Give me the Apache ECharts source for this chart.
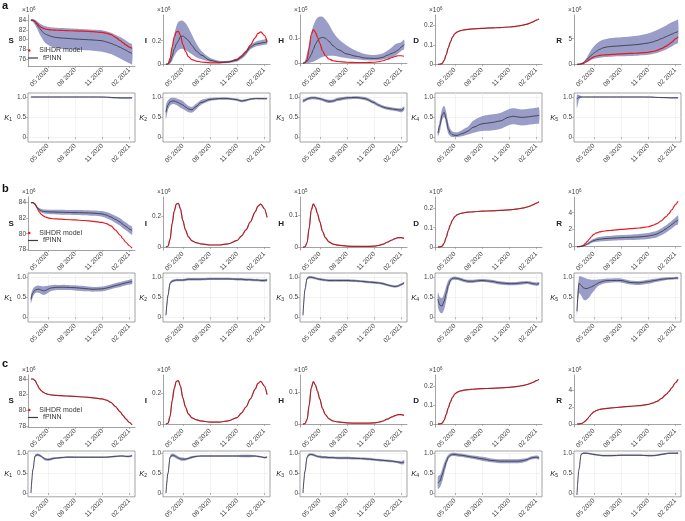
<!DOCTYPE html>
<html lang="en">

<head>
    <meta charset="UTF-8">
    <title>SIHDR vs fPINN</title>
    <style>html,body{margin:0;padding:0;background:#fff;}</style>
</head>

<body>
    <div id="main" style="width: 685px;height:521px;"></div>
    <script src="https://cdn.jsdelivr.net/npm/echarts@6/dist/echarts.min.js"></script>
    <script>
        // time grid of the curves
        var dates = ['2020-03-05', '2020-03-12', '2020-03-19', '2020-03-26', '2020-04-02', '2020-04-09', '2020-04-16', '2020-04-23',
            '2020-05-01', '2020-05-10', '2020-05-20', '2020-06-01', '2020-06-15', '2020-07-01', '2020-08-01', '2020-09-01',
            '2020-10-01', '2020-11-01', '2020-11-15', '2020-12-01', '2020-12-15', '2021-01-01', '2021-01-10', '2021-01-20',
            '2021-02-01', '2021-02-10'];
        var tickDates = ['2020-05-01', '2020-08-01', '2020-11-01', '2021-02-01'];
        var xRange = ['2020-02-24', '2021-02-20'];

        // SIHDR model (same in every panel)
        var modelS = [84.0, 84.0, 83.8, 83.3, 82.8, 82.5, 82.3, 82.15, 82.05, 81.98, 81.93, 81.9, 81.87, 81.83, 81.77, 81.7, 81.6, 81.45, 81.3, 81.0, 80.5, 79.8, 79.35, 78.9, 78.45, 78.15];
        var modelI = [0.0, 0.005, 0.05, 0.15, 0.23, 0.275, 0.28, 0.245, 0.17, 0.11, 0.065, 0.04, 0.028, 0.02, 0.013, 0.013, 0.02, 0.042, 0.07, 0.11, 0.16, 0.225, 0.262, 0.275, 0.245, 0.19];
        var modelH = [0.0, 0.002, 0.015, 0.06, 0.115, 0.135, 0.125, 0.105, 0.08, 0.05, 0.03, 0.017, 0.01, 0.007, 0.004, 0.003, 0.003, 0.004, 0.006, 0.01, 0.016, 0.023, 0.027, 0.03, 0.03, 0.028];
        var modelD = [0.0, 0.0, 0.004, 0.02, 0.05, 0.085, 0.115, 0.14, 0.158, 0.168, 0.174, 0.178, 0.181, 0.183, 0.186, 0.188, 0.19, 0.193, 0.195, 0.198, 0.202, 0.208, 0.213, 0.219, 0.228, 0.235];
        var modelR = [0.0, 0.01, 0.05, 0.15, 0.35, 0.6, 0.9, 1.2, 1.45, 1.62, 1.74, 1.82, 1.88, 1.93, 2.03, 2.12, 2.2, 2.35, 2.5, 2.72, 3.05, 3.55, 3.9, 4.35, 4.95, 5.35];

        // panel a: fPINN mean and band
        var aS = [84.0, 83.9, 83.5, 83.0, 82.4, 81.9, 81.4, 81.1, 80.9, 80.7, 80.5, 80.4, 80.3, 80.25, 80.1, 80.0, 79.9, 79.75, 79.5, 79.2, 78.85, 78.4, 78.1, 77.8, 77.4, 77.1];
        var aSLo = [83.8, 83.6, 83.0, 82.2, 81.3, 80.5, 79.8, 79.3, 78.9, 78.6, 78.4, 78.2, 78.1, 78.0, 77.9, 77.8, 77.7, 77.5, 77.3, 77.0, 76.6, 76.1, 75.8, 75.5, 75.1, 74.9];
        var aSHi = [84.2, 84.15, 84.0, 83.7, 83.4, 83.1, 82.9, 82.7, 82.6, 82.5, 82.45, 82.4, 82.35, 82.3, 82.2, 82.1, 82.0, 81.9, 81.7, 81.4, 81.0, 80.5, 80.2, 79.8, 79.3, 79.0];
        var aI = [0.0, 0.002, 0.02, 0.07, 0.13, 0.17, 0.2, 0.235, 0.24, 0.225, 0.2, 0.16, 0.115, 0.08, 0.035, 0.018, 0.02, 0.035, 0.06, 0.1, 0.145, 0.17, 0.175, 0.18, 0.185, 0.19];
        var aILo = [0.0, 0.0, 0.005, 0.03, 0.07, 0.1, 0.12, 0.13, 0.13, 0.12, 0.105, 0.085, 0.06, 0.045, 0.02, 0.01, 0.012, 0.025, 0.045, 0.08, 0.125, 0.15, 0.155, 0.16, 0.165, 0.17];
        var aIHi = [0.0, 0.01, 0.06, 0.15, 0.25, 0.32, 0.36, 0.37, 0.37, 0.35, 0.31, 0.25, 0.18, 0.12, 0.055, 0.03, 0.03, 0.05, 0.08, 0.12, 0.165, 0.19, 0.2, 0.205, 0.21, 0.215];
        var aH = [0.0, 0.002, 0.008, 0.02, 0.035, 0.055, 0.075, 0.09, 0.1, 0.104, 0.1, 0.088, 0.07, 0.055, 0.037, 0.028, 0.021, 0.019, 0.02, 0.024, 0.032, 0.04, 0.045, 0.052, 0.065, 0.075];
        var aHLo = [0.0, 0.0, 0.0, 0.002, 0.004, 0.006, 0.01, 0.015, 0.02, 0.025, 0.028, 0.03, 0.03, 0.027, 0.02, 0.016, 0.012, 0.011, 0.012, 0.015, 0.02, 0.025, 0.03, 0.038, 0.05, 0.057];
        var aHHi = [0.0, 0.01, 0.04, 0.08, 0.12, 0.15, 0.17, 0.182, 0.187, 0.186, 0.175, 0.155, 0.125, 0.1, 0.07, 0.05, 0.037, 0.033, 0.035, 0.04, 0.05, 0.065, 0.075, 0.08, 0.085, 0.095];
        var aR = [0.0, 0.02, 0.1, 0.3, 0.6, 1.0, 1.4, 1.8, 2.15, 2.55, 2.9, 3.2, 3.4, 3.5, 3.62, 3.75, 3.9, 4.15, 4.35, 4.65, 5.0, 5.4, 5.65, 5.9, 6.2, 6.4];
        var aRLo = [0.0, 0.01, 0.05, 0.15, 0.3, 0.5, 0.7, 0.9, 1.05, 1.2, 1.3, 1.4, 1.45, 1.5, 1.55, 1.6, 1.7, 1.85, 2.0, 2.2, 2.5, 2.9, 3.2, 3.5, 3.9, 4.2];
        var aRHi = [0.0, 0.03, 0.15, 0.45, 0.9, 1.5, 2.2, 2.9, 3.5, 4.0, 4.45, 4.8, 5.0, 5.15, 5.3, 5.45, 5.65, 6.0, 6.3, 6.7, 7.1, 7.6, 7.9, 8.2, 8.5, 8.7];
        var aK1 = [1.0, 1.0, 1.0, 1.0, 1.0, 1.0, 1.0, 1.0, 1.0, 1.0, 1.0, 1.0, 1.0, 1.0, 1.0, 1.0, 1.0, 0.998, 0.995, 0.99, 0.985, 0.98, 0.98, 0.978, 0.978, 0.98];
        var aK1Lo = [0.99, 0.99, 0.99, 0.99, 0.99, 0.99, 0.99, 0.99, 0.99, 0.99, 0.99, 0.99, 0.99, 0.99, 0.99, 0.99, 0.99, 0.985, 0.98, 0.97, 0.96, 0.955, 0.955, 0.955, 0.955, 0.96];
        var aK1Hi = [1.01, 1.01, 1.01, 1.01, 1.01, 1.01, 1.01, 1.01, 1.01, 1.01, 1.01, 1.01, 1.01, 1.01, 1.01, 1.01, 1.01, 1.01, 1.005, 1.0, 1.0, 0.995, 0.995, 0.995, 0.995, 1.0];
        var aK2 = [0.62, 0.8, 0.88, 0.9, 0.9, 0.88, 0.86, 0.83, 0.8, 0.75, 0.7, 0.68, 0.76, 0.86, 0.94, 0.96, 0.96, 0.93, 0.9, 0.92, 0.95, 0.96, 0.96, 0.96, 0.96, 0.96];
        var aK2Lo = [0.45, 0.68, 0.79, 0.82, 0.82, 0.8, 0.77, 0.73, 0.7, 0.66, 0.62, 0.61, 0.69, 0.8, 0.9, 0.93, 0.93, 0.9, 0.87, 0.89, 0.92, 0.94, 0.94, 0.94, 0.94, 0.94];
        var aK2Hi = [0.8, 0.92, 0.97, 0.98, 0.98, 0.97, 0.95, 0.93, 0.9, 0.84, 0.78, 0.75, 0.83, 0.92, 0.98, 0.99, 0.99, 0.96, 0.93, 0.95, 0.97, 0.98, 0.98, 0.98, 0.98, 0.98];
        var aK3 = [0.9, 0.92, 0.95, 0.97, 0.98, 0.98, 0.98, 0.97, 0.96, 0.94, 0.91, 0.89, 0.9, 0.94, 0.98, 0.99, 0.96, 0.86, 0.8, 0.75, 0.72, 0.7, 0.69, 0.68, 0.67, 0.72];
        var aK3Lo = [0.86, 0.88, 0.91, 0.93, 0.94, 0.94, 0.94, 0.93, 0.92, 0.9, 0.87, 0.85, 0.86, 0.9, 0.94, 0.95, 0.92, 0.82, 0.76, 0.71, 0.68, 0.66, 0.65, 0.64, 0.62, 0.66];
        var aK3Hi = [0.94, 0.96, 0.99, 1.0, 1.01, 1.01, 1.01, 1.0, 0.99, 0.97, 0.95, 0.93, 0.94, 0.98, 1.01, 1.02, 1.0, 0.9, 0.84, 0.79, 0.76, 0.74, 0.73, 0.72, 0.72, 0.77];
        var aK4 = [0.1, 0.3, 0.55, 0.62, 0.45, 0.2, 0.1, 0.06, 0.04, 0.04, 0.07, 0.1, 0.15, 0.24, 0.33, 0.36, 0.4, 0.5, 0.52, 0.5, 0.49, 0.5, 0.51, 0.52, 0.53, 0.54];
        var aK4Lo = [0.02, 0.15, 0.42, 0.5, 0.3, 0.08, 0.02, 0.0, 0.0, 0.0, 0.01, 0.03, 0.06, 0.1, 0.15, 0.16, 0.2, 0.3, 0.32, 0.3, 0.29, 0.3, 0.31, 0.32, 0.33, 0.34];
        var aK4Hi = [0.18, 0.45, 0.7, 0.78, 0.62, 0.35, 0.2, 0.14, 0.12, 0.12, 0.15, 0.2, 0.26, 0.4, 0.52, 0.56, 0.6, 0.7, 0.72, 0.7, 0.69, 0.7, 0.71, 0.72, 0.73, 0.74];
        var aK5 = [0.95, 1.0, 1.0, 1.0, 1.0, 1.0, 1.0, 1.0, 1.0, 1.0, 1.0, 1.0, 1.0, 1.0, 1.0, 1.0, 1.0, 0.998, 0.995, 0.99, 0.988, 0.985, 0.982, 0.98, 0.98, 0.98];
        var aK5Lo = [0.72, 0.93, 0.98, 0.99, 0.99, 0.99, 0.99, 0.99, 0.99, 0.99, 0.99, 0.99, 0.99, 0.99, 0.99, 0.99, 0.99, 0.985, 0.98, 0.975, 0.97, 0.97, 0.965, 0.965, 0.965, 0.965];
        var aK5Hi = [1.06, 1.05, 1.02, 1.01, 1.01, 1.01, 1.01, 1.01, 1.01, 1.01, 1.01, 1.01, 1.01, 1.01, 1.01, 1.01, 1.01, 1.01, 1.01, 1.0, 1.0, 1.0, 0.995, 0.995, 0.995, 0.995];

        // panel b
        var bS = [84.0, 84.0, 83.8, 83.4, 83.1, 82.95, 82.87, 82.85, 82.82, 82.8, 82.8, 82.78, 82.77, 82.75, 82.72, 82.7, 82.65, 82.55, 82.4, 82.15, 81.85, 81.5, 81.2, 80.95, 80.6, 80.4];
        var bSLo = [83.95, 83.92, 83.68, 83.25, 82.9, 82.72, 82.62, 82.58, 82.55, 82.52, 82.5, 82.47, 82.45, 82.43, 82.4, 82.37, 82.3, 82.18, 82.0, 81.72, 81.4, 81.02, 80.7, 80.45, 80.1, 79.9];
        var bSHi = [84.05, 84.08, 83.92, 83.55, 83.3, 83.18, 83.12, 83.12, 83.1, 83.08, 83.1, 83.09, 83.09, 83.07, 83.04, 83.03, 83.0, 82.92, 82.8, 82.58, 82.3, 81.98, 81.7, 81.45, 81.1, 80.9];
        var bR = [0.0, 0.01, 0.03, 0.08, 0.17, 0.3, 0.45, 0.6, 0.72, 0.82, 0.88, 0.93, 0.97, 1.0, 1.06, 1.1, 1.15, 1.25, 1.35, 1.5, 1.75, 2.1, 2.35, 2.6, 2.95, 3.15];
        var bRLo = [0.0, 0.0, 0.01, 0.04, 0.1, 0.19, 0.3, 0.42, 0.51, 0.58, 0.62, 0.65, 0.68, 0.7, 0.75, 0.78, 0.82, 0.9, 0.98, 1.12, 1.35, 1.68, 1.92, 2.15, 2.48, 2.65];
        var bRHi = [0.0, 0.02, 0.06, 0.13, 0.25, 0.42, 0.6, 0.78, 0.93, 1.06, 1.14, 1.2, 1.26, 1.3, 1.37, 1.42, 1.48, 1.6, 1.72, 1.88, 2.15, 2.52, 2.78, 3.05, 3.42, 3.65];
        var bK1 = [0.45, 0.62, 0.68, 0.7, 0.7, 0.68, 0.66, 0.67, 0.7, 0.73, 0.74, 0.75, 0.75, 0.75, 0.74, 0.72, 0.7, 0.71, 0.73, 0.76, 0.79, 0.82, 0.84, 0.86, 0.88, 0.89];
        var bK1Lo = [0.35, 0.52, 0.6, 0.62, 0.61, 0.58, 0.56, 0.57, 0.61, 0.65, 0.67, 0.68, 0.68, 0.68, 0.67, 0.65, 0.64, 0.65, 0.67, 0.7, 0.73, 0.76, 0.78, 0.8, 0.82, 0.83];
        var bK1Hi = [0.55, 0.72, 0.77, 0.79, 0.79, 0.78, 0.77, 0.78, 0.79, 0.8, 0.81, 0.81, 0.81, 0.81, 0.8, 0.78, 0.76, 0.77, 0.79, 0.82, 0.85, 0.88, 0.9, 0.92, 0.94, 0.95];
        var bK2 = [0.05, 0.55, 0.85, 0.9, 0.92, 0.93, 0.93, 0.93, 0.93, 0.94, 0.95, 0.95, 0.95, 0.95, 0.96, 0.96, 0.96, 0.95, 0.95, 0.94, 0.94, 0.93, 0.93, 0.92, 0.92, 0.93];
        var bK2Lo = [0.0, 0.48, 0.81, 0.87, 0.89, 0.9, 0.9, 0.9, 0.9, 0.91, 0.92, 0.92, 0.92, 0.92, 0.93, 0.93, 0.93, 0.92, 0.92, 0.91, 0.91, 0.9, 0.9, 0.89, 0.89, 0.9];
        var bK2Hi = [0.1, 0.62, 0.89, 0.93, 0.95, 0.96, 0.96, 0.96, 0.96, 0.97, 0.98, 0.98, 0.98, 0.98, 0.99, 0.99, 0.99, 0.98, 0.98, 0.97, 0.97, 0.96, 0.96, 0.95, 0.95, 0.96];
        var bK3 = [0.05, 0.7, 0.97, 1.0, 1.0, 0.99, 0.98, 0.96, 0.95, 0.94, 0.93, 0.92, 0.92, 0.92, 0.92, 0.91, 0.89, 0.87, 0.86, 0.84, 0.81, 0.78, 0.77, 0.78, 0.82, 0.86];
        var bK3Lo = [0.0, 0.64, 0.94, 0.97, 0.97, 0.96, 0.95, 0.93, 0.92, 0.91, 0.9, 0.89, 0.89, 0.89, 0.89, 0.88, 0.86, 0.84, 0.83, 0.81, 0.78, 0.75, 0.74, 0.75, 0.79, 0.83];
        var bK3Hi = [0.1, 0.76, 1.0, 1.03, 1.03, 1.02, 1.01, 0.99, 0.98, 0.97, 0.96, 0.95, 0.95, 0.95, 0.95, 0.94, 0.92, 0.9, 0.89, 0.87, 0.84, 0.81, 0.8, 0.81, 0.85, 0.89];
        var bK4 = [0.45, 0.3, 0.28, 0.4, 0.6, 0.8, 0.92, 0.97, 0.98, 0.97, 0.95, 0.92, 0.9, 0.9, 0.92, 0.9, 0.86, 0.84, 0.84, 0.85, 0.86, 0.87, 0.86, 0.84, 0.83, 0.84];
        var bK4Lo = [0.25, 0.12, 0.1, 0.2, 0.42, 0.68, 0.86, 0.93, 0.94, 0.93, 0.91, 0.88, 0.86, 0.86, 0.88, 0.86, 0.82, 0.8, 0.8, 0.81, 0.82, 0.83, 0.82, 0.8, 0.79, 0.8];
        var bK4Hi = [0.62, 0.5, 0.48, 0.6, 0.78, 0.92, 0.98, 1.01, 1.02, 1.01, 0.99, 0.96, 0.94, 0.94, 0.96, 0.94, 0.9, 0.88, 0.88, 0.89, 0.9, 0.91, 0.9, 0.88, 0.87, 0.88];
        var bK5 = [0.15, 0.85, 0.8, 0.74, 0.72, 0.72, 0.74, 0.76, 0.79, 0.83, 0.87, 0.9, 0.92, 0.92, 0.92, 0.87, 0.86, 0.89, 0.91, 0.93, 0.95, 0.96, 0.97, 0.97, 0.98, 0.98];
        var bK5Lo = [0.05, 0.6, 0.55, 0.45, 0.42, 0.45, 0.5, 0.58, 0.66, 0.74, 0.8, 0.84, 0.86, 0.87, 0.87, 0.82, 0.81, 0.84, 0.86, 0.89, 0.91, 0.93, 0.94, 0.94, 0.95, 0.95];
        var bK5Hi = [0.3, 1.02, 1.02, 1.0, 0.98, 0.96, 0.95, 0.94, 0.94, 0.94, 0.95, 0.96, 0.97, 0.97, 0.97, 0.92, 0.91, 0.94, 0.96, 0.97, 0.99, 1.0, 1.0, 1.0, 1.01, 1.01];

        // panel c
        var cK1 = [0.0, 0.6, 0.93, 0.96, 0.95, 0.92, 0.88, 0.85, 0.84, 0.85, 0.87, 0.88, 0.89, 0.9, 0.9, 0.9, 0.9, 0.9, 0.9, 0.91, 0.92, 0.93, 0.93, 0.92, 0.92, 0.94];
        var cK1Lo = [-0.02, 0.56, 0.9, 0.93, 0.92, 0.89, 0.85, 0.82, 0.81, 0.82, 0.84, 0.86, 0.87, 0.88, 0.88, 0.88, 0.88, 0.88, 0.88, 0.89, 0.9, 0.91, 0.91, 0.9, 0.9, 0.92];
        var cK1Hi = [0.02, 0.64, 0.96, 0.99, 0.98, 0.95, 0.91, 0.88, 0.87, 0.88, 0.9, 0.9, 0.91, 0.92, 0.92, 0.92, 0.92, 0.92, 0.92, 0.93, 0.94, 0.95, 0.95, 0.94, 0.94, 0.96];
        var cK2 = [0.0, 0.5, 0.9, 0.95, 0.94, 0.91, 0.88, 0.86, 0.85, 0.85, 0.87, 0.9, 0.92, 0.93, 0.93, 0.93, 0.93, 0.93, 0.93, 0.93, 0.93, 0.93, 0.92, 0.91, 0.89, 0.9];
        var cK2Lo = [-0.02, 0.45, 0.86, 0.91, 0.9, 0.87, 0.84, 0.82, 0.81, 0.82, 0.84, 0.87, 0.9, 0.91, 0.91, 0.91, 0.91, 0.91, 0.9, 0.9, 0.9, 0.91, 0.9, 0.89, 0.87, 0.88];
        var cK2Hi = [0.02, 0.55, 0.94, 0.99, 0.98, 0.95, 0.92, 0.9, 0.89, 0.88, 0.9, 0.93, 0.94, 0.95, 0.95, 0.95, 0.95, 0.95, 0.96, 0.96, 0.96, 0.95, 0.94, 0.93, 0.91, 0.92];
        var cK3 = [0.0, 0.55, 0.9, 0.96, 0.97, 0.96, 0.94, 0.92, 0.91, 0.9, 0.9, 0.89, 0.89, 0.88, 0.88, 0.87, 0.86, 0.84, 0.83, 0.82, 0.81, 0.8, 0.79, 0.78, 0.76, 0.78];
        var cK3Lo = [-0.02, 0.5, 0.86, 0.93, 0.94, 0.93, 0.91, 0.89, 0.88, 0.87, 0.87, 0.86, 0.86, 0.85, 0.85, 0.84, 0.83, 0.81, 0.8, 0.79, 0.78, 0.77, 0.76, 0.75, 0.72, 0.73];
        var cK3Hi = [0.02, 0.6, 0.94, 0.99, 1.0, 0.99, 0.97, 0.95, 0.94, 0.93, 0.93, 0.92, 0.92, 0.91, 0.91, 0.9, 0.89, 0.87, 0.86, 0.85, 0.84, 0.83, 0.82, 0.81, 0.8, 0.83];
        var cK4 = [0.25, 0.3, 0.45, 0.62, 0.78, 0.9, 0.95, 0.97, 0.97, 0.96, 0.95, 0.94, 0.92, 0.9, 0.86, 0.82, 0.8, 0.8, 0.8, 0.8, 0.81, 0.84, 0.87, 0.89, 0.9, 0.88];
        var cK4Lo = [0.1, 0.15, 0.28, 0.48, 0.68, 0.84, 0.91, 0.93, 0.93, 0.92, 0.91, 0.9, 0.88, 0.86, 0.81, 0.77, 0.75, 0.75, 0.75, 0.75, 0.76, 0.8, 0.83, 0.85, 0.86, 0.84];
        var cK4Hi = [0.42, 0.45, 0.6, 0.76, 0.88, 0.96, 0.99, 1.01, 1.01, 1.0, 0.99, 0.98, 0.96, 0.94, 0.91, 0.87, 0.85, 0.85, 0.85, 0.85, 0.86, 0.88, 0.91, 0.93, 0.94, 0.92];
        var cK5 = [-0.05, 0.6, 0.97, 1.0, 1.0, 1.0, 0.99, 0.98, 0.97, 0.96, 0.95, 0.94, 0.94, 0.94, 0.95, 0.95, 0.95, 0.94, 0.94, 0.95, 0.97, 0.99, 1.0, 1.0, 1.0, 1.0];
        var cK5Lo = [-0.07, 0.57, 0.95, 0.98, 0.98, 0.98, 0.97, 0.96, 0.95, 0.94, 0.93, 0.92, 0.92, 0.92, 0.93, 0.93, 0.93, 0.92, 0.92, 0.93, 0.95, 0.97, 0.98, 0.98, 0.98, 0.98];
        var cK5Hi = [-0.03, 0.63, 0.99, 1.02, 1.02, 1.02, 1.01, 1.0, 0.99, 0.98, 0.97, 0.96, 0.96, 0.96, 0.97, 0.97, 0.97, 0.96, 0.96, 0.97, 0.99, 1.01, 1.02, 1.02, 1.02, 1.02];

        var t = dates.map(function (d) { return Date.parse(d); });
        var xTicks = tickDates.map(function (d) { return Date.parse(d); });

        function pts(arr) { return arr.map(function (v, j) { return [t[j], v]; }); }

        var FONT = 'Liberation Sans, Arial, sans-serif';
        var RED = '#e8181c', DARK = '#3c3c48', BAND = 'rgba(128,132,186,0.8)';

        var cols = [28, 163, 300, 435, 574];
        var colW = 107;
        var panels = {
            a: { top: 15, h: 51, kTop: 93, kH: 49, kMin: -0.125, kMax: 1.1, letter: 0, leg: 47 },
            b: { top: 197, h: 53, kTop: 273, kH: 49, kMin: -0.118, kMax: 1.107, letter: 183, leg: 229.5 },
            c: { top: 375, h: 52, kTop: 451, kH: 48, kMin: -0.096, kMax: 1.056, letter: 358, leg: 406.5 }
        };

        var plots = [
            { panel: 'a', col: 0, name: 'S', exp: '6', model: modelS, fit: aS, lo: aSLo, hi: aSHi, min: 74.56, max: 85.03, ticks: [76, 78, 80, 82, 84] },
            { panel: 'a', col: 1, name: 'I', exp: '6', model: modelI, fit: aI, lo: aILo, hi: aIHi, min: -0.014, max: 0.418, ticks: [0, 0.2] },
            { panel: 'a', col: 2, name: 'H', exp: '5', model: modelH, fit: aH, lo: aHLo, hi: aHHi, min: -0.011, max: 0.193, ticks: [0, 0.1] },
            { panel: 'a', col: 3, name: 'D', exp: '6', model: modelD, fit: modelD, min: -0.009, max: 0.255, ticks: [0, 0.1, 0.2] },
            { panel: 'a', col: 4, name: 'R', exp: '6', model: modelR, fit: aR, lo: aRLo, hi: aRHi, min: -0.33, max: 9.63, ticks: [0, 5] },
            { panel: 'a', col: 0, k: 1, fit: aK1, lo: aK1Lo, hi: aK1Hi },
            { panel: 'a', col: 1, k: 2, fit: aK2, lo: aK2Lo, hi: aK2Hi },
            { panel: 'a', col: 2, k: 3, fit: aK3, lo: aK3Lo, hi: aK3Hi },
            { panel: 'a', col: 3, k: 4, fit: aK4, lo: aK4Lo, hi: aK4Hi },
            { panel: 'a', col: 4, k: 5, fit: aK5, lo: aK5Lo, hi: aK5Hi },

            { panel: 'b', col: 0, name: 'S', exp: '6', model: modelS, fit: bS, lo: bSLo, hi: bSHi, min: 77.9, max: 84.73, ticks: [78, 80, 82, 84] },
            { panel: 'b', col: 1, name: 'I', exp: '6', model: modelI, fit: modelI, min: -0.019, max: 0.32, ticks: [0, 0.2] },
            { panel: 'b', col: 2, name: 'H', exp: '5', model: modelH, fit: modelH, min: -0.008, max: 0.156, ticks: [0, 0.1] },
            { panel: 'b', col: 3, name: 'D', exp: '6', model: modelD, fit: modelD, min: -0.016, max: 0.26, ticks: [0, 0.1, 0.2] },
            { panel: 'b', col: 4, name: 'R', exp: '6', model: modelR, fit: bR, lo: bRLo, hi: bRHi, min: -0.39, max: 5.85, ticks: [0, 2, 4] },
            { panel: 'b', col: 0, k: 1, fit: bK1, lo: bK1Lo, hi: bK1Hi },
            { panel: 'b', col: 1, k: 2, fit: bK2, lo: bK2Lo, hi: bK2Hi },
            { panel: 'b', col: 2, k: 3, fit: bK3, lo: bK3Lo, hi: bK3Hi },
            { panel: 'b', col: 3, k: 4, fit: bK4, lo: bK4Lo, hi: bK4Hi },
            { panel: 'b', col: 4, k: 5, fit: bK5, lo: bK5Lo, hi: bK5Hi },

            { panel: 'c', col: 0, name: 'S', exp: '6', model: modelS, fit: modelS, min: 77.87, max: 84.51, ticks: [78, 80, 82, 84] },
            { panel: 'c', col: 1, name: 'I', exp: '6', model: modelI, fit: modelI, min: -0.019, max: 0.316, ticks: [0, 0.2] },
            { panel: 'c', col: 2, name: 'H', exp: '5', model: modelH, fit: modelH, min: -0.009, max: 0.156, ticks: [0, 0.1] },
            { panel: 'c', col: 3, name: 'D', exp: '6', model: modelD, fit: modelD, min: -0.016, max: 0.258, ticks: [0, 0.1, 0.2] },
            { panel: 'c', col: 4, name: 'R', exp: '6', model: modelR, fit: modelR, min: -0.36, max: 5.88, ticks: [0, 2, 4] },
            { panel: 'c', col: 0, k: 1, fit: cK1, lo: cK1Lo, hi: cK1Hi },
            { panel: 'c', col: 1, k: 2, fit: cK2, lo: cK2Lo, hi: cK2Hi },
            { panel: 'c', col: 2, k: 3, fit: cK3, lo: cK3Lo, hi: cK3Hi },
            { panel: 'c', col: 3, k: 4, fit: cK4, lo: cK4Lo, hi: cK4Hi },
            { panel: 'c', col: 4, k: 5, fit: cK5, lo: cK5Lo, hi: cK5Hi }
        ];

        // band between lo and hi, placed with the axes' own coord()
        function bandItem(lo, hi) {
            return function (params, api) {
                if (params.dataIndex !== 0) return null;
                var poly = [];
                for (var j = 0; j < t.length; j++) poly.push(api.coord([t[j], hi[j]]));
                for (var j2 = t.length - 1; j2 >= 0; j2--) poly.push(api.coord([t[j2], lo[j2]]));
                return { type: 'polygon', shape: { points: poly, smooth: 0.3 }, style: { fill: BAND } };
            };
        }

        var grids = [], xAxes = [], yAxes = [], series = [], titles = [], legends = [];
        var kTicks = [0, 0.5, 1];

        plots.forEach(function (p, i) {
            var P = panels[p.panel];
            var isK = !!p.k;
            var top = isK ? P.kTop : P.top;
            var h = isK ? P.kH : P.h;
            var left = cols[p.col];

            grids.push({ left: left, top: top, width: colW, height: h, show: isK, borderColor: '#8a8a8a', borderWidth: 0.8 });

            xAxes.push({
                type: 'value', gridIndex: i,
                min: Date.parse(xRange[0]), max: Date.parse(xRange[1]),
                axisLine: { show: !isK, lineStyle: { color: '#8a8a8a', width: 0.8 } },
                axisTick: { show: true, customValues: xTicks, length: 2, lineStyle: { color: '#8a8a8a', width: 0.6 } },
                axisLabel: {
                    customValues: xTicks, rotate: 45, fontSize: 6.5, color: '#444', margin: 3, fontFamily: FONT,
                    formatter: function (v) {
                        var d = new Date(v);
                        var m = d.getUTCMonth() + 1;
                        return (m < 10 ? '0' + m : m) + ' ' + d.getUTCFullYear();
                    }
                },
                splitLine: { show: isK, lineStyle: { color: '#ebebeb', width: 0.6 } }
            });

            var yTicks = isK ? kTicks : p.ticks;
            var y = {
                type: 'value', gridIndex: i,
                min: isK ? P.kMin : p.min, max: isK ? P.kMax : p.max,
                axisLine: { show: !isK, lineStyle: { color: '#8a8a8a', width: 0.8 } },
                axisTick: { show: true, customValues: yTicks, length: 2, lineStyle: { color: '#8a8a8a', width: 0.6 } },
                axisLabel: {
                    customValues: yTicks, fontSize: 6.5, color: '#444', margin: 2, fontFamily: FONT,
                    formatter: function (v) { return isK && v === 1 ? '1.0' : String(v); }
                },
                splitLine: { show: isK, lineStyle: { color: '#ebebeb', width: 0.6 } },
                nameLocation: 'middle', nameRotate: 0, nameGap: 12
            };
            if (isK) {
                y.name = '{k|K}{s|' + p.k + '}';
                y.nameTextStyle = {
                    rich: {
                        k: { fontSize: 7.5, fontStyle: 'italic', fontFamily: FONT, color: '#222' },
                        s: { fontSize: 5, fontFamily: FONT, color: '#222', padding: [4, 0, 0, 0] }
                    }
                };
            } else {
                y.name = p.name;
                y.nameTextStyle = { fontSize: 8, fontWeight: 'bold', fontFamily: FONT, color: '#222' };
                titles.push({
                    text: '×10{s|' + p.exp + '}', left: left - 6, top: top - 9, padding: 0,
                    textStyle: {
                        fontSize: 6.5, fontWeight: 'normal', color: '#444', fontFamily: FONT,
                        rich: { s: { fontSize: 4.5, color: '#444', fontFamily: FONT, padding: [0, 0, 4, 0] } }
                    }
                });
            }
            yAxes.push(y);

            var common = { xAxisIndex: i, yAxisIndex: i, symbol: 'none', smooth: 0.3, smoothMonotone: 'x', silent: true };
            if (p.lo) {
                series.push({
                    type: 'custom', xAxisIndex: i, yAxisIndex: i, silent: true, clip: true,
                    data: pts(p.hi), encode: { x: 0, y: 1 }, renderItem: bandItem(p.lo, p.hi)
                });
            }
            if (p.model) {
                series.push(Object.assign({}, common, {
                    type: 'line', name: 'SIHDR model', data: pts(p.model), color: RED, lineStyle: { width: 1.2, color: RED }
                }));
            }
            series.push(Object.assign({}, common, {
                type: 'line', name: 'fPINN', data: pts(p.fit), color: DARK,
                lineStyle: { width: 0.9, color: DARK, opacity: p.fit === p.model ? 0.55 : 1 }
            }));
        });

        ['a', 'b', 'c'].forEach(function (k) {
            var P = panels[k];
            titles.push({ text: k, left: 2, top: P.letter, padding: 0, textStyle: { fontSize: 11, fontWeight: 'bold', fontFamily: FONT, color: '#111' } });
            legends.push({
                data: ['SIHDR model'], left: 28, top: P.leg, padding: 0, icon: 'circle', itemWidth: 10, itemHeight: 2.5,
                textStyle: { fontSize: 7, color: '#333', fontFamily: FONT }
            });
            legends.push({
                data: ['fPINN'], left: 28, top: P.leg + 7.5, padding: 0, icon: 'rect', itemWidth: 10, itemHeight: 1.2,
                textStyle: { fontSize: 7, color: '#333', fontFamily: FONT }
            });
        });

        var myChart = echarts.init(document.getElementById('main'));
        myChart.setOption({
            animation: false,
            backgroundColor: '#fff',
            title: titles,
            legend: legends,
            grid: grids,
            xAxis: xAxes,
            yAxis: yAxes,
            series: series
        });
    </script>
</body>

</html>
